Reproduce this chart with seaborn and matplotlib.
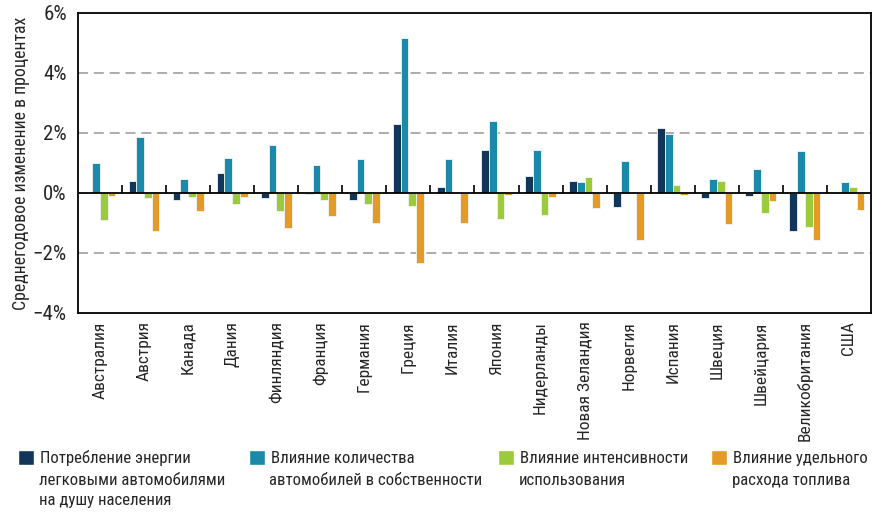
import pandas as pd
import matplotlib.pyplot as plt
from matplotlib.patches import Patch
import seaborn as sns

# data (% per year)
countries = ["Австралия", "Австрия", "Канада", "Дания", "Финляндия", "Франция",
             "Германия", "Греция", "Италия", "Япония", "Нидерланды",
             "Новая Зеландия", "Норвегия", "Испания", "Швеция", "Швейцария",
             "Великобритания", "США"]
energy = [0.0, 0.41, -0.23, 0.68, -0.16, -0.05, -0.24, 2.31, 0.21, 1.43, 0.58,
          0.39, -0.48, 2.18, -0.17, -0.10, -1.28, 0.04]
ownership = [1.01, 1.86, 0.48, 1.17, 1.61, 0.93, 1.12, 5.18, 1.13, 2.39, 1.42,
             0.37, 1.08, 1.97, 0.46, 0.81, 1.41, 0.38]
intensity = [-0.91, -0.17, -0.12, -0.37, -0.60, -0.23, -0.37, -0.42, 0.04, -0.87,
             -0.72, 0.52, 0.0, 0.26, 0.39, -0.67, -1.13, 0.21]
fuel = [-0.09, -1.26, -0.60, -0.12, -1.17, -0.77, -1.01, -2.33, -0.99, -0.07,
        -0.13, -0.51, -1.58, -0.07, -1.03, -0.26, -1.56, -0.57]

series_names = ["Потребление энергии\nлегковыми автомобилями\nна душу населения",
                "Влияние количества\nавтомобилей в собственности",
                "Влияние интенсивности\nиспользования",
                "Влияние удельного\nрасхода топлива"]
colors = ["#12365a", "#1a8aab", "#9bcb3b", "#e39b26"]

# long format for seaborn
df = pd.DataFrame({"country": countries, series_names[0]: energy,
                   series_names[1]: ownership, series_names[2]: intensity,
                   series_names[3]: fuel})
df = df.melt(id_vars="country", var_name="series", value_name="value")

sns.set_style("white")
plt.rcParams["font.family"] = ["Roboto Condensed", "Liberation Sans", "DejaVu Sans"]

fig = plt.figure(figsize=(8.73, 5.13), dpi=100)
ax = fig.add_axes([0.0893, 0.390, 0.9084, 0.5847])

sns.barplot(data=df, x="country", y="value", hue="series", palette=colors,
            saturation=1, width=0.7, edgecolor="#f4f4f4", linewidth=0.6,
            ax=ax, legend=False)

ax.set_ylim(-4, 6)
ax.set_xlim(-0.5, len(countries) - 0.5)
ax.set_yticks([-4, -2, 0, 2, 4, 6])
ax.set_yticklabels(["−4%", "−2%", "0%", "2%", "4%", "6%"], fontsize=15)
for y in [-2, 2, 4]:
    ax.axhline(y, color="#a0a0a0", lw=1.2, ls=(0, (6, 3.5)), zorder=0)
ax.axhline(0, color="black", lw=1.3, zorder=3)
# small separators between country groups on the zero line
ax.vlines([i + 0.5 for i in range(len(countries) - 1)], 0, 0.25,
          color="black", lw=1.2, zorder=3)

ax.tick_params(axis="y", direction="in", length=5, width=1.2, pad=8)
ax.tick_params(axis="x", length=0, pad=6)
plt.setp(ax.get_xticklabels(), rotation=90, fontsize=12.5)
for s in ax.spines.values():
    s.set_color("black")
    s.set_linewidth(1.3)
ax.set_xlabel("")
ax.set_ylabel("Среднегодовое изменение в процентах", fontsize=12.8, labelpad=2)

# legend: one entry per column, marker next to the first line
legend_x = [0.021, 0.285, 0.571, 0.815]
for name, col, lx in zip(series_names, colors, legend_x):
    first, *rest = name.split("\n")
    fig.legend([Patch(facecolor=col)], [first], loc="upper left",
               bbox_to_anchor=(lx, 0.122), frameon=False, fontsize=12.1,
               handlelength=0.95, handleheight=0.95, handletextpad=0.35,
               borderpad=0, borderaxespad=0)
    if rest:
        fig.text(lx + 0.0235, 0.078, "\n".join(rest), fontsize=12.1,
                 va="top", ha="left", linespacing=1.42)

fig.savefig("out.png", dpi=100)
